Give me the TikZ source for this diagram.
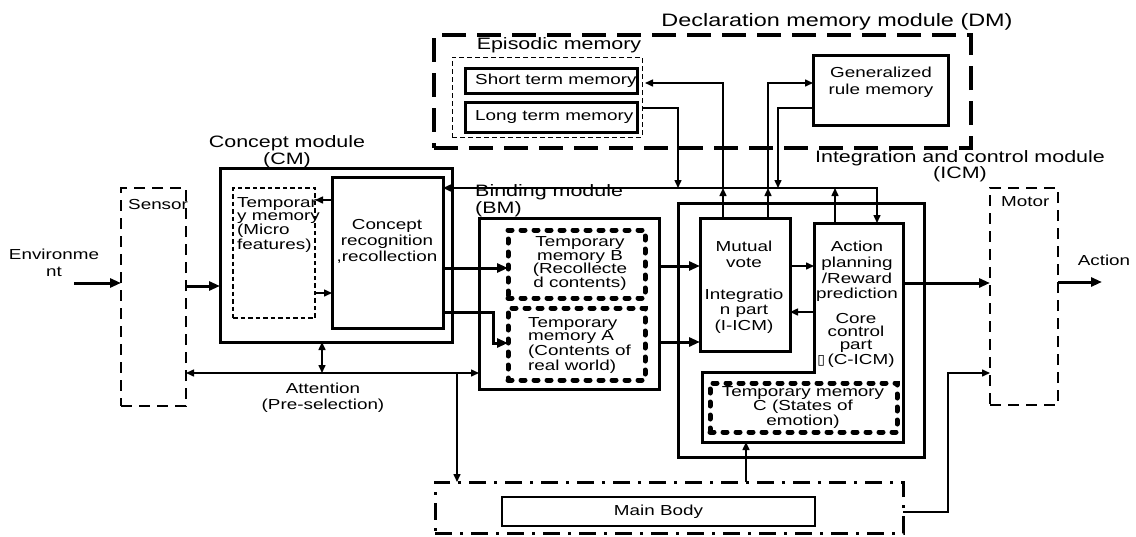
\documentclass[tikz,border=0pt]{standalone}
\usepackage{fontspec}
\setmainfont[FakeStretch=1.3]{Liberation Sans}
\newfontfamily\boxglyph{DejaVu Sans}
\usetikzlibrary{arrows.meta, positioning, calc}

\begin{document}
\begin{tikzpicture}[
    x=1pt, y=-1pt,
    module/.style={draw, line width=3pt, outer sep=0pt, inner sep=0pt},
    periph/.style={draw, line width=1.5pt, dash pattern=on 11pt off 7pt, outer sep=0pt, inner sep=0pt},
    dmframe/.style={draw, line width=3.5pt, dash pattern=on 24pt off 11pt, outer sep=0pt, inner sep=0pt},
    epiframe/.style={draw, line width=1pt, dash pattern=on 5pt off 3pt, outer sep=0pt, inner sep=0pt},
    tempmem/.style={draw, line width=5pt, line cap=round, dash pattern=on 4pt off 9pt, outer sep=0pt, inner sep=0pt},
    micromem/.style={draw, line width=2.5pt, dash pattern=on 4.5pt off 3pt, outer sep=0pt, inner sep=0pt},
    bodyframe/.style={draw, line width=3pt, dash pattern=on 17pt off 8pt on 3pt off 8pt, outer sep=0pt, inner sep=0pt},
    lbl/.style={font=\fontsize{14.5}{15.8}\selectfont, align=center, inner sep=0pt},
    ttl/.style={font=\fontsize{16.5}{17}\selectfont, align=center, inner sep=0pt},
    arrow/.style={-{Triangle[length=8pt,width=7pt]}, line width=1.5pt},
    dblarrow/.style={{Triangle[length=8pt,width=7pt]}-{Triangle[length=8pt,width=7pt]}, line width=1.5pt},
    bigarrow/.style={-{Triangle[length=11pt,width=9pt]}, line width=3pt},
    wire/.style={line width=1.5pt}
]
\useasboundingbox (0,0) rectangle (1136,536);

% Sensor / Motor
\node[periph, minimum width=65pt, minimum height=218pt] (sensor) at (153.5,297) {};
\node[lbl, anchor=west] (sensortext) at (128,205) {Sensor};
\node[periph, minimum width=68pt, minimum height=217pt] (motor) at (1024,296.5) {};
\node[lbl, anchor=west] (motortext) at (1001,202) {Motor};
\node[lbl, font=\fontsize{14.5}{17}\selectfont] (envtext) at (54,262.5) {Environme\\nt};
\node[lbl] (actiontext) at (1104,260) {Action};
\coordinate (envin) at (74,283);
\coordinate (actout) at (1102,282);

% Concept module
\node[module, minimum width=232pt, minimum height=174pt] (cm) at (336,255) {};
\node[ttl] (cmtitle) at (287,151.5) {Concept module\\(CM)};
\node[micromem, minimum width=82pt, minimum height=130pt] (tmm) at (274,253) {};
\node[lbl, anchor=west, align=left, font=\fontsize{14.5}{12.8}\selectfont] (tmmtext) at (237,225) {Temporar\\y memory\\(Micro\\features)};
\node[module, minimum width=111pt, minimum height=151pt] (cr) at (387.5,252.5) {};
\node[lbl, font=\fontsize{14.5}{16}\selectfont] (crtext) at (387,241) {Concept\\recognition\\,recollection};

% Binding module
\node[module, minimum width=180pt, minimum height=171pt] (bm) at (569,303.5) {};
\node[ttl, anchor=west, align=left] (bmtitle) at (475,200.5) {Binding module\\(BM)};
\node[tempmem, minimum width=137pt, minimum height=68pt] (tmb) at (576.5,264) {};
\node[lbl, font=\fontsize{14.5}{13.7}\selectfont] (tmbtext) at (580,263.5) {Temporary\\memory B\\(Recollecte\\d contents)};
\node[tempmem, minimum width=137pt, minimum height=72pt] (tma) at (576.5,344) {};
\node[lbl, anchor=west, align=left, font=\fontsize{14.5}{13}\selectfont] (tmatext) at (528,345.5) {Temporary\\memory A\\(Contents of\\real world)};

% Integration and control module
\node[module, minimum width=246pt, minimum height=254pt] (icm) at (801,330) {};
\node[ttl, font=\fontsize{16.5}{16.5}\selectfont] (icmtitle) at (960,166) {Integration and control module\\(ICM)};
\node[module, minimum width=90pt, minimum height=133pt] (mv) at (745,284.5) {};
\node[lbl] (mvtext) at (744,287.5) {Mutual\\vote\\[15.8pt]Integratio\\n part\\(I-ICM)};
\node[minimum width=89pt, minimum height=219pt, outer sep=0pt, inner sep=0pt] (ap) at (858.5,332.5) {};
\draw[line width=3pt] (ap.north west) -- (ap.north east) -- (ap.south east) -- (702,442) -- (702,372) -- (ap.west |- 0,372) -- cycle;
\node[lbl, font=\fontsize{14.5}{15.7}\selectfont] (aptext) at (857,271.5) {Action\\planning\\/Reward\\prediction};
\node[lbl, font=\fontsize{14.5}{13.3}\selectfont] (coretext) at (856,340) {Core\\control\\part\\{\boxglyph\fontsize{14}{14}\selectfont ▯}\,(C-ICM)};
\node[tempmem, minimum width=187pt, minimum height=49pt] (tmc) at (803.5,407.5) {};
\node[lbl, font=\fontsize{14.5}{12.5}\selectfont] (tmctext) at (803,407.5) {Temporary memory\\C (States of\\emotion)};

% Declaration memory module
\node[dmframe, minimum width=537pt, minimum height=113pt] (dm) at (702.5,91.5) {};
\node[ttl, font=\fontsize{18}{18}\selectfont] (dmtitle) at (837,22) {Declaration memory module (DM)};
\node[epiframe, minimum width=190pt, minimum height=80pt] (epi) at (547,97) {};
\node[ttl] (epititle) at (559,45) {Episodic memory};
\node[module, minimum width=172pt, minimum height=25pt] (stm) at (551,80.5) {};
\node[lbl, anchor=west] (stmtext) at (475,80.5) {Short term memory};
\node[module, minimum width=172pt, minimum height=30pt] (ltm) at (551,117) {};
\node[lbl, anchor=west] (ltmtext) at (475,117) {Long term memory};
\node[module, minimum width=135pt, minimum height=70pt] (grm) at (880.5,90) {};
\node[lbl, font=\fontsize{14.5}{17}\selectfont] (grmtext) at (881,82) {Generalized\\rule memory};

% Main body
\node[bodyframe, minimum width=468pt, minimum height=51pt] (mbody) at (669,507.5) {};
\node[draw, line width=2pt, minimum width=313pt, minimum height=29pt, outer sep=0pt, lbl] (mainbody) at (658.5,511.5) {Main Body};

% Attention
\node[lbl, font=\fontsize{14.5}{16}\selectfont] (atttext) at (323,398) {Attention\\(Pre-selection)};

% Connectors
\draw[bigarrow] (envin) -- (envin -| sensor.west);
\draw[bigarrow] (sensor.east |- 0,286) -- (cm.west |- 0,286);
\draw[arrow] (cr.west |- 0,200) -- (tmm.east |- 0,200);
\draw[arrow] (tmm.east |- 0,293) -- (cr.west |- 0,293);
\draw[bigarrow] (cr.east |- 0,268) -- (tmb.west |- 0,268);
\draw[bigarrow] (cr.east |- 0,312) -| (493,343) -- (tma.west |- 0,343);
\draw[bigarrow] (bm.east |- 0,266) -- (mv.west |- 0,266);
\draw[bigarrow] (bm.east |- 0,342) -- (mv.west |- 0,342);
\draw[arrow] (mv.east |- 0,266) -- (ap.west |- 0,266);
\draw[arrow] (ap.west |- 0,312) -- (mv.east |- 0,312);
\draw[bigarrow] (ap.east |- 0,283) -- (motor.west |- 0,283);
\draw[bigarrow] (motor.east |- actout) -- (actout);

% Attention lines
\draw[dblarrow] (sensor.east |- 0,373) -- (bm.west |- 0,373);
\draw[dblarrow] (322,0 |- cm.south) -- (322,373);
\draw[arrow] (457,373) -- (457,0 |- mbody.north);
\draw[arrow] (746,0 |- mbody.north) -- (746,442);
\draw[arrow] (mbody.east |- 0,512) -| (948,373) -- (motor.west |- 0,373);

% Bus to memories
\draw[dblarrow] (cr.east |- 0,188) -- (877,188) -- (877,0 |- ap.north);
\draw[arrow] (epi.east |- 0,108) -| (678,188);
\draw[arrow] (grm.west |- 0,108) -| (778,188);
\draw[arrow] (723,0 |- mv.north) -- (723,188);
\draw[arrow] (723,188) |- (645,83);
\draw[arrow] (768,0 |- mv.north) -- (768,188);
\draw[arrow] (768,188) |- (grm.west |- 0,83);
\draw[arrow] (835,0 |- ap.north) -- (835,188);

\end{tikzpicture}
\end{document}
